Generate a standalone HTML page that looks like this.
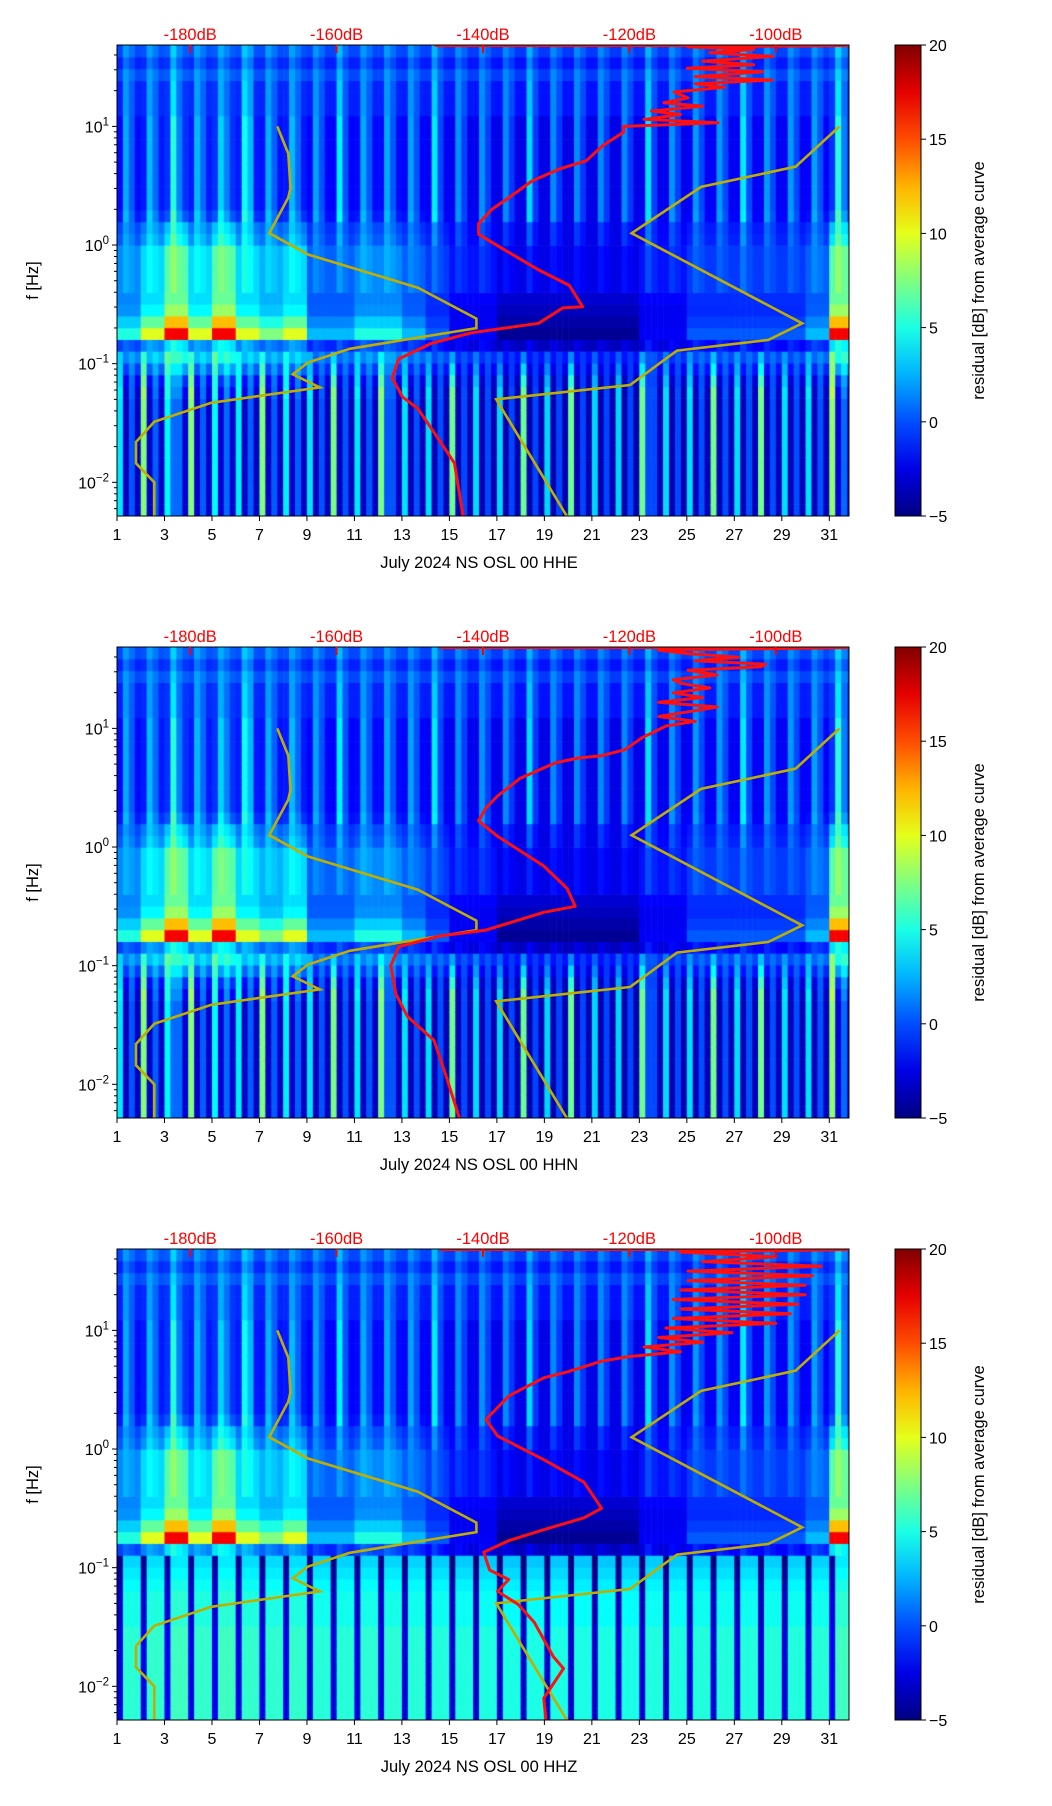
<!DOCTYPE html>
<html><head><meta charset="utf-8"><style>
body{margin:0;background:#fff;width:1052px;height:1806px;position:relative;overflow:hidden;font-family:"Liberation Sans",sans-serif}
canvas{position:absolute}
svg{position:absolute;left:0;top:0}
</style></head><body>
<div id="root"></div>
<svg id="svg" width="1052" height="1806"></svg>
<script>
// ---- data ----
const panelNames = ["HHE","HHN","HHZ"];
const dayTicks = [1,3,5,7,9,11,13,15,17,19,21,23,25,27,29,31];
const dbTicks = [-180,-160,-140,-120,-100];
const cbTicks = [-5,0,5,10,15,20];
const fTicks = [1,0,-1,-2];
// storminess per day (1..31)
const storm = [4,6,9,6,9,6,5,6,3,3,4,4,3,2,1,1,0,0,0,0,0,0,1,1,2,2,2,2,2,3,9];
// quarter-day stripe patterns (upper band and lower band)
const stripeHi = "0210021003100210021003200210021002100310021002100210031002100210021003100210021002100210031002100210021003100210021002100310";
const stripeLo = "2010301021103010201020103010201020103010201031102010201030102010201030102010301020102010311020102010301020103010201020103010";
const stripeZ  = "3000300030003000300030003000300030003000300030003000300030003000300030003000300030003000300030003000300030003000300030003000";
// per frequency row (0=lowest, 40 rows of ~0.1 decade)
const rowBase  = [-3.8,-3.8,-3.8,-3.8,-3.8,-3.8,-3.8,-3.8,-3.8,-3.8,-3.8,-3.5,-2.5,-1.5,-3.5,-4.5,-4,-3.5,-3,-2.5,-2.5,-2.5,-2.5,-2.5,-2.5,-2.5,-2.5,-2.5,-2.5,-2.5,-2.5,-2.5,-2.5,-2.5,-1.5,-1.5,-1.5,-0.5,-1.5,-0.5];
const rowStripe= [3.6,3.6,3.6,3.6,3.6,3.6,3.6,3.6,3.6,3.6,3.6,3,2,1,0.5,0,0,0,0,0.5,0.5,0.5,0.5,1,1,2,2,2,2,2,2,2,2,2,1.5,1.5,1.5,1,1,1];
const rowStorm = [0.1,0.1,0.1,0.1,0.1,0.1,0.1,0.1,0.1,0.1,0.2,0.3,0.5,0.7,0.8,2.4,1.8,1.3,1.1,1,1,1,1,0.7,0.6,0.3,0.2,0.2,0.2,0.2,0.2,0.2,0.2,0.2,0.1,0.1,0.1,0.1,0.1,0.1];
const rowBaseZ = [5,5,5,5,5,5,5,5,4.5,4.5,4.5,4,3.5,3];
// Peterson models (log10 f, dB)
const nlnm = [[1.0,-168.1],[0.77,-166.6],[0.48,-166.3],[0.40,-166.6],[0.10,-169.2],[-0.08,-163.9],[-0.36,-148.9],[-0.62,-140.9],[-0.70,-140.9],[-0.78,-148.9],[-0.875,-158.2],[-0.99,-163.9],[-1.09,-166.0],[-1.20,-162.3],[-1.33,-177.1],[-1.49,-184.9],[-1.66,-187.4],[-1.84,-187.4],[-2.0,-184.9],[-2.29,-184.9]];
const nhnm = [[1.0,-91.3],[0.66,-97.3],[0.49,-110.2],[0.10,-119.7],[-0.66,-96.4],[-0.80,-101.0],[-0.89,-113.5],[-1.18,-119.9],[-1.30,-138.2],[-2.29,-128.5]];
const avgHHE = [[-2.29,-142.7],[-1.84,-143.9],[-1.67,-145.7],[-1.38,-148.9],[-1.28,-151],[-1.12,-152.4],[-0.96,-151.5],[-0.83,-147.1],[-0.74,-141.6],[-0.66,-132.4],[-0.53,-129.1],[-0.52,-126.4],[-0.34,-128.2],[-0.21,-132.4],[-0.01,-137.9],[0.09,-140.6],[0.18,-140.6],[0.30,-138.8],[0.38,-136.9],[0.54,-133.3],[0.64,-129.6],[0.71,-125.9],[0.84,-123.6],[0.95,-120.8],[1.00,-120.8],[1.03,-107.9],[1.06,-118],[1.10,-113],[1.13,-117],[1.17,-110],[1.20,-115.3],[1.24,-112],[1.29,-113.9],[1.33,-107],[1.36,-111],[1.39,-100.5],[1.42,-111],[1.46,-101.8],[1.49,-112.1],[1.52,-103],[1.55,-110],[1.59,-100.4],[1.62,-109],[1.65,-103],[1.67,-112],[1.682,-90],[1.682,-146.6]];
const avgHHN = [[-2.29,-143.2],[-1.92,-145.1],[-1.63,-146.7],[-1.43,-150.3],[-1.24,-151.9],[-1.0,-152.6],[-0.84,-151.5],[-0.75,-145.9],[-0.70,-139.6],[-0.55,-131.7],[-0.50,-127.4],[-0.35,-128.5],[-0.16,-131.7],[0.09,-138],[0.22,-140.6],[0.33,-139.6],[0.43,-138],[0.58,-134.9],[0.71,-130.1],[0.75,-127],[0.77,-123.8],[0.82,-120.6],[0.92,-118.3],[1.02,-115],[1.06,-111],[1.10,-116],[1.14,-112],[1.18,-108],[1.22,-116],[1.26,-110],[1.30,-114],[1.34,-109],[1.38,-113],[1.41,-114],[1.45,-108],[1.49,-112],[1.52,-102],[1.54,-101.4],[1.57,-111],[1.60,-105],[1.63,-112],[1.66,-116],[1.682,-90],[1.682,-145.9]];
const avgHHZ = [[-2.29,-131.4],[-2.10,-131.7],[-1.85,-129],[-1.75,-130.4],[-1.46,-133],[-1.31,-135.2],[-1.2,-138],[-1.1,-136.5],[-1.02,-139.1],[-0.87,-139.9],[-0.77,-136.4],[-0.68,-131.7],[-0.58,-126.2],[-0.50,-123.8],[-0.28,-126.2],[-0.09,-131.7],[0.11,-138],[0.25,-139.6],[0.35,-138],[0.45,-136.4],[0.60,-131.7],[0.65,-128.5],[0.74,-123.8],[0.78,-120],[0.82,-113],[0.86,-118],[0.90,-110],[0.94,-116],[0.98,-106],[1.02,-115],[1.06,-100],[1.10,-114],[1.14,-98],[1.18,-113],[1.22,-97],[1.26,-114],[1.30,-96],[1.34,-113],[1.38,-96],[1.42,-112],[1.46,-95],[1.50,-112],[1.54,-93.8],[1.58,-110],[1.62,-100],[1.66,-113],[1.682,-90],[1.682,-145.9]];
const avgCurves = [avgHHE, avgHHN, avgHHZ];

// ---- layout ----
const L=117, W=732, H=471, tops=[45,647,1249], CBX=895, CBW=26;
const DMIN=1, DMAX=31.83, FMIN=-2.284, FMAX=1.686, DBMIN=-190, DBMAX=-90;
const NS="http://www.w3.org/2000/svg";
const svg=document.getElementById('svg');
function el(tag,attrs,parent){const e=document.createElementNS(NS,tag);for(const k in attrs)e.setAttribute(k,attrs[k]);(parent||svg).appendChild(e);return e;}
function jet(t){t=Math.max(0,Math.min(1,t));const c=v=>Math.round(255*Math.max(0,Math.min(1,v)));return `rgb(${c(1.5-Math.abs(4*t-3))},${c(1.5-Math.abs(4*t-2))},${c(1.5-Math.abs(4*t-1))})`;}

tops.forEach((T,p)=>{
  const X=d=>L+(d-DMIN)/(DMAX-DMIN)*W;
  const Y=lf=>T+(FMAX-lf)/(FMAX-FMIN)*H;
  const XD=db=>L+(db-DBMIN)/(DBMAX-DBMIN)*W;
  const cv=document.createElement('canvas');cv.width=W;cv.height=H;cv.style.left=L+'px';cv.style.top=T+'px';
  
  
  document.body.insertBefore(cv,svg);
  const ctx=cv.getContext('2d');
  const nRows=rowBase.length, rowH=(FMAX-FMIN)/nRows;
  for(let c=0;c<stripeHi.length;c++){
    const d0=1+c*0.25; if(d0>=DMAX)break;
    const x0=X(d0)-L, x1=Math.min(X(d0+0.25),L+W)-L;
    const st=storm[Math.min(30,Math.floor(d0)-1)];
    for(let r=0;r<nRows;r++){
      const lf0=FMIN+r*rowH, lf1=lf0+rowH;
      let v;
      if(p===2 && r<rowBaseZ.length){ v=rowBaseZ[r]-2.7*(+stripeZ[c])+0.1*st; }
      else{
        const s = r<14 ? +stripeLo[c] : +stripeHi[c];
        v=rowBase[r]+rowStripe[r]*s+rowStorm[r]*st;
      }
      ctx.fillStyle=jet((v+5)/25);
      ctx.fillRect(x0,Y(lf1)-T,x1-x0+0.6,Y(lf0)-Y(lf1)+0.6);
    }
  }
  const cp=el('clipPath',{id:'clip'+p});el('rect',{x:L,y:T,width:W,height:H},cp);
  const g=el('g',{'clip-path':`url(#clip${p})`});
  const pts=a=>a.map(q=>XD(q[1]).toFixed(1)+','+Y(q[0]).toFixed(1)).join(' ');
  const l1=el('polyline',{points:pts(nlnm),fill:'none',stroke:'#bfae00',"stroke-width":2.6},g);
  
  const l2=el('polyline',{points:pts(nhnm),fill:'none',stroke:'#bfae00',"stroke-width":2.6},g);
  
  const l3=el('polyline',{points:pts(avgCurves[p]),fill:'none',stroke:'#ff1010',"stroke-width":3,"stroke-linejoin":"round"},g);
  
  const fr=el('rect',{x:L,y:T,width:W,height:H,fill:'none',stroke:'#000','stroke-width':1});
  
  dayTicks.forEach(d=>{const x=X(d);el('line',{x1:x,x2:x,y1:T+H,y2:T+H+5,stroke:'#000'});
    const t=el('text',{x:x,y:T+H+24,'text-anchor':'middle','font-size':16});t.textContent=d;
    });
  const xl=el('text',{x:L+W/2-4,y:T+H+52,'text-anchor':'middle','font-size':16.5});xl.textContent='July 2024 NS OSL 00 '+panelNames[p];
  
  for(let e=-3;e<=1;e++)for(let m=1;m<10;m++){const lf=e+Math.log10(m);if(lf<FMIN||lf>FMAX)continue;const y=Y(lf);
    el('line',{x1:L-(m===1?5:3),x2:L,y1:y,y2:y,stroke:'#000'});}
  fTicks.forEach(e=>{const y=Y(e);const t=el('text',{x:L-8,y:y+6,'text-anchor':'end','font-size':16});
    t.textContent='10';const s=el('tspan',{dy:-7,'font-size':11.5},t);s.textContent=String(e).replace('-','\u2212');
    });
  const yl=el('text',{x:0,y:0,'text-anchor':'middle','font-size':16.5,transform:`translate(38,${T+H/2}) rotate(-90)`});yl.textContent='f [Hz]';
  
  dbTicks.forEach(db=>{const x=XD(db);el('line',{x1:x,x2:x,y1:T,y2:T+8,stroke:'#ff0000','stroke-width':2});
    const t=el('text',{x:x,y:T-5,'text-anchor':'middle','font-size':16.5,fill:'#ff0000'});t.textContent=db+'dB';
    });
  const gd=el('linearGradient',{id:'jet'+p,x1:0,y1:1,x2:0,y2:0});
  for(let i=0;i<=10;i++)el('stop',{offset:i/10,'stop-color':jet(i/10)},gd);
  const cb=el('rect',{x:CBX,y:T,width:CBW,height:H,fill:`url(#jet${p})`,stroke:'#000','stroke-width':1});
  
  cbTicks.forEach(v=>{const y=T+H-(v+5)/25*H;el('line',{x1:CBX+CBW,x2:CBX+CBW+5,y1:y,y2:y,stroke:'#000'});
    const t=el('text',{x:CBX+CBW+8,y:y+6,'font-size':16});t.textContent=String(v).replace('-','\u2212');
    });
  const cl=el('text',{x:0,y:0,'text-anchor':'middle','font-size':16.5,transform:`translate(984,${T+H/2}) rotate(-90)`});cl.textContent='residual [dB] from average curve';
  
});
</script>
</body></html>
